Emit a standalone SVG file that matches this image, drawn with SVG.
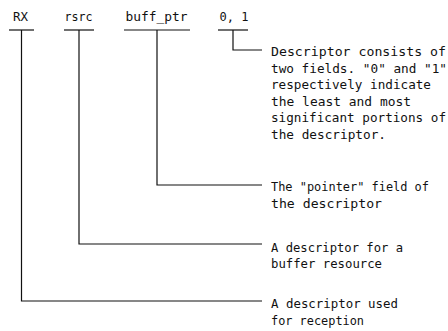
<svg xmlns="http://www.w3.org/2000/svg" width="448" height="331" viewBox="0 0 448 331">
<style>
text{font-family:"DejaVu Sans Mono","Liberation Mono",monospace;font-size:12.5px;fill:#111}
.ln{stroke:#111;stroke-width:1.2;fill:none}
</style>
<rect width="448" height="331" fill="#fff"/>
<g id="field-rx"><text x="13" y="21" textLength="15" lengthAdjust="spacingAndGlyphs">RX</text><line class="ln" x1="9" y1="30" x2="34" y2="30"/></g>
<g id="field-rsrc"><text x="64.5" y="21" textLength="28" lengthAdjust="spacingAndGlyphs">rsrc</text><line class="ln" x1="64" y1="30" x2="94" y2="30"/></g>
<g id="field-buffptr"><text x="125.5" y="21" textLength="62" lengthAdjust="spacingAndGlyphs">buff_ptr</text><line class="ln" x1="124" y1="30" x2="190" y2="30"/></g>
<g id="field-01"><text x="219.5" y="21" textLength="29" lengthAdjust="spacingAndGlyphs">0, 1</text><line class="ln" x1="218" y1="30" x2="248" y2="30"/></g>
<g id="connectors">
<polyline class="ln" points="233,30 233,50 262,50"/>
<polyline class="ln" points="157,30 157,185 262,185"/>
<polyline class="ln" points="79,30 79,244 262,244"/>
<polyline class="ln" points="21.5,30 21.5,301 262,301"/>
</g>
<g id="note-01">
<text x="271" y="56" textLength="175" lengthAdjust="spacingAndGlyphs">Descriptor consists of</text>
<text x="271" y="72.5" textLength="176" lengthAdjust="spacingAndGlyphs">two fields. "0" and "1"</text>
<text x="271" y="89" textLength="160" lengthAdjust="spacingAndGlyphs">respectively indicate</text>
<text x="271" y="105.5" textLength="140" lengthAdjust="spacingAndGlyphs">the least and most</text>
<text x="271" y="122" textLength="175" lengthAdjust="spacingAndGlyphs">significant portions of</text>
<text x="271" y="138.5" textLength="115" lengthAdjust="spacingAndGlyphs">the descriptor.</text>
</g>
<g id="note-buffptr">
<text x="271" y="191" textLength="158" lengthAdjust="spacingAndGlyphs">The "pointer" field of</text>
<text x="271" y="207.5" textLength="111" lengthAdjust="spacingAndGlyphs">the descriptor</text>
</g>
<g id="note-rsrc">
<text x="271" y="251.5" textLength="132" lengthAdjust="spacingAndGlyphs">A descriptor for a</text>
<text x="271" y="268" textLength="111" lengthAdjust="spacingAndGlyphs">buffer resource</text>
</g>
<g id="note-rx">
<text x="271" y="308" textLength="127" lengthAdjust="spacingAndGlyphs">A descriptor used</text>
<text x="271" y="324.5" textLength="93" lengthAdjust="spacingAndGlyphs">for reception</text>
</g>
</svg>
